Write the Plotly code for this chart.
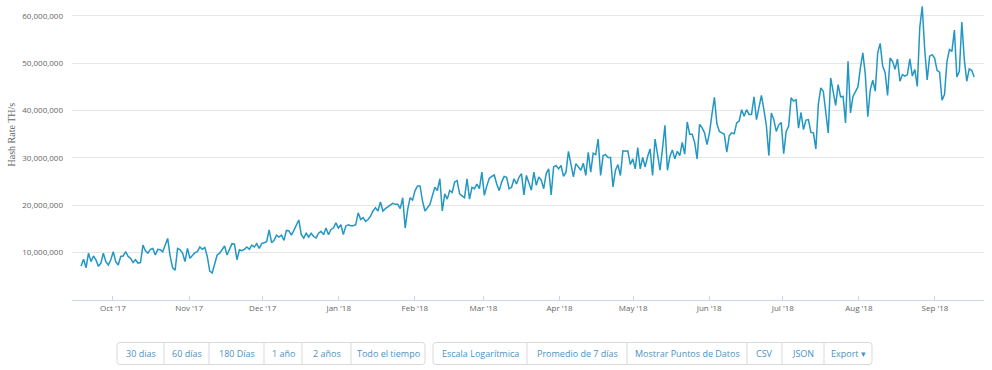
import plotly.graph_objects as go
import pandas as pd

# ---------------- data (millions of TH/s) ----------------
hash_q1 = [7.2, 8.6, 6.8, 9.9, 8.1, 9.3, 8.5, 7.1, 7.8, 9.9, 8.1, 7.4, 8.5, 10.2, 8.1, 7.4,
           9.2, 9.3, 10.2, 9.2, 8.8, 7.9, 8.5, 7.8, 7.9, 11.6, 10.4, 9.9, 10.7, 10.9, 9.5,
           10.7, 10.6, 10.2, 11.6, 13.0, 9.2, 6.8, 6.3, 10.9, 10.6, 9.9, 8.1, 10.9, 8.8, 9.5,
           10.0, 10.2, 11.2, 10.7, 11.1, 9.2, 6.1, 5.7, 7.4, 9.5, 9.9, 10.6, 11.4, 9.5, 10.7,
           11.9, 11.8, 8.5, 10.6, 10.4, 10.7, 11.2, 10.7, 11.6, 11.2, 11.9, 10.9, 11.9, 12.1,
           12.3, 14.8, 12.1, 12.6, 13.7, 13.3, 13.7, 12.6, 14.7, 14.6, 13.7, 14.7, 15.7, 16.9]
hash_q2 = [13.8, 13.1, 14.1, 13.3, 14.1, 13.4, 13.1, 14.1, 14.5, 13.8, 15.2, 13.8, 14.9, 15.2,
           16.3, 15.2, 15.9, 13.8, 15.6, 15.9, 15.7, 15.7, 15.9, 18.4, 17.0, 17.4, 16.6, 17.0,
           17.7, 18.8, 19.5, 18.8, 20.7, 18.8, 19.3, 19.7, 20.0, 20.4, 20.2, 20.2, 19.3, 21.6,
           15.2, 19.1, 21.6, 21.1, 23.1, 24.1, 24.1, 20.9, 18.8, 19.5, 20.2, 22.0, 23.8, 23.1,
           25.6, 18.8, 22.4, 21.3, 23.1, 22.7, 24.9, 25.2, 22.4, 22.0, 21.6, 25.6, 21.3, 23.8,
           23.5, 24.5, 23.5, 27.0, 22.1, 24.1, 25.7, 26.1, 26.4, 24.5, 23.1, 24.9, 26.1, 25.9,
           23.5, 23.8, 25.6, 24.5, 25.9]
hash_q3 = [26.7, 22.2, 26.3, 24.6, 23.2, 27.0, 24.2, 26.0, 25.3, 23.5, 26.7, 27.7, 22.2, 28.1,
           28.4, 27.7, 28.4, 26.1, 27.0, 31.4, 28.4, 26.0, 28.8, 28.2, 27.4, 28.9, 26.3, 31.2,
           27.0, 31.0, 30.7, 34.0, 26.3, 30.5, 30.7, 30.1, 30.1, 23.9, 27.4, 28.6, 26.3, 31.5,
           31.4, 31.5, 28.6, 29.8, 27.7, 32.2, 27.7, 30.1, 28.1, 30.3, 31.9, 26.3, 34.0, 30.8,
           27.4, 31.9, 36.9, 27.4, 30.3, 31.7, 29.8, 31.4, 30.5, 33.3, 30.8, 37.6, 35.0, 35.0,
           33.3, 29.8, 37.1, 36.4, 35.3, 32.8, 35.3, 39.2, 42.8, 37.2, 35.6, 35.3, 35.0, 31.2,
           34.7, 35.3, 35.1, 37.4, 37.8, 40.2]
hash_q4 = [38.8, 40.2, 39.2, 39.2, 42.9, 38.1, 40.6, 43.2, 40.2, 36.8, 30.5, 39.5, 38.1, 35.6,
           37.0, 37.5, 30.9, 35.6, 36.7, 42.7, 42.0, 42.3, 36.3, 39.6, 36.0, 38.0, 38.1, 35.4,
           35.3, 31.9, 41.3, 44.8, 44.1, 39.5, 35.3, 46.9, 43.7, 41.1, 45.5, 42.9, 43.0, 37.4,
           50.4, 39.5, 43.0, 43.9, 45.0, 49.0, 52.2, 47.6, 38.7, 44.4, 46.4, 44.1, 52.2, 54.2,
           49.4, 48.0, 43.2, 51.1, 50.4, 48.7, 50.9, 46.2, 47.6, 47.3, 47.6, 50.9, 47.3, 48.7,
           45.1, 57.5, 62.0, 52.9, 46.5, 51.5, 51.8, 51.1, 48.5, 48.1, 42.2, 43.4, 50.4, 52.9,
           52.5, 57.0, 47.1, 48.3, 58.7, 50.8, 46.2, 48.8, 48.5, 47.1]

hash_rate = [v * 1e6 for v in hash_q1 + hash_q2 + hash_q3 + hash_q4]
dates = pd.date_range("2017-09-18", "2018-09-17", periods=len(hash_rate))

y_tick_vals = [10e6, 20e6, 30e6, 40e6, 50e6, 60e6]
y_tick_text = ["10,000,000", "20,000,000", "30,000,000", "40,000,000", "50,000,000", "60,000,000"]
x_tick_vals = ["2017-10-01", "2017-11-01", "2017-12-01", "2018-01-01", "2018-02-01", "2018-03-01",
               "2018-04-01", "2018-05-01", "2018-06-01", "2018-07-01", "2018-08-01", "2018-09-01"]
x_tick_text = ["Oct '17", "Nov '17", "Dec '17", "Jan '18", "Feb '18", "Mar '18",
               "Apr '18", "May '18", "Jun '18", "Jul '18", "Aug '18", "Sep '18"]
range_buttons = ["30 dias", "60 días", "180 Días", "1 año", "2 años", "Todo el tiempo"]
option_buttons = ["Escala Logarítmica", "Promedio de 7 días", "Mostrar Puntos de Datos",
                  "CSV", "JSON", "Export ▾"]

# ---------------- figure ----------------
W, H = 992, 370
ML, MR, MT, MB = 72, 8, 5, 70
PW, PH = W - ML - MR, H - MT - MB


def px(x):
    return (x - ML) / PW


def py(y):
    return (H - MB - y) / PH


fig = go.Figure()
fig.add_trace(go.Scatter(x=dates, y=hash_rate, mode="lines",
                         line=dict(color="#2397c3", width=1.5), hoverinfo="x+y"))

shapes = []
annotations = []


def rounded_box(x0, x1, y0, y1, r=3):
    X0, X1, Y0, Y1 = px(x0), px(x1), py(y0), py(y1)
    rx, ry = r / PW, r / PH
    path = (f"M {X0+rx},{Y0} L {X1-rx},{Y0} Q {X1},{Y0} {X1},{Y0-ry} "
            f"L {X1},{Y1+ry} Q {X1},{Y1} {X1-rx},{Y1} L {X0+rx},{Y1} "
            f"Q {X0},{Y1} {X0},{Y1+ry} L {X0},{Y0-ry} Q {X0},{Y0} {X0+rx},{Y0} Z")
    return dict(type="path", xref="paper", yref="paper", path=path,
                line=dict(color="#d9d9d9", width=1), fillcolor="white", layer="above")


def button_group(labels, edges, top=342.5, bottom=364.5):
    shapes.append(rounded_box(edges[0], edges[-1], top, bottom))
    for e in edges[1:-1]:
        shapes.append(dict(type="line", xref="paper", yref="paper", x0=px(e), x1=px(e),
                           y0=py(top), y1=py(bottom), line=dict(color="#d9d9d9", width=1),
                           layer="above"))
    for lab, a, b in zip(labels, edges[:-1], edges[1:]):
        annotations.append(dict(text=lab, xref="paper", yref="paper", x=px((a + b) / 2),
                                y=py((top + bottom) / 2), xanchor="center", yanchor="middle",
                                showarrow=False,
                                font=dict(family="Open Sans", size=9, color="#4a92c6")))


button_group(range_buttons, [117, 164, 209, 264, 302, 351, 425])
button_group(option_buttons, [433, 527, 627, 747, 782, 824, 872])

annotations.append(dict(text="Hash Rate TH/s", xref="paper", yref="paper",
                        x=px(10.5), y=py(135), textangle=-90, showarrow=False,
                        xanchor="center", yanchor="middle",
                        font=dict(family="Liberation Serif", size=10, color="#666666")))

fig.update_layout(
    width=W, height=H,
    margin=dict(l=ML, r=MR, t=MT, b=MB),
    paper_bgcolor="white", plot_bgcolor="white",
    showlegend=False,
    shapes=shapes, annotations=annotations,
    xaxis=dict(type="date", range=["2017-09-14 07:00", "2018-09-21"],
               tickvals=x_tick_vals, ticktext=x_tick_text,
               showgrid=False, zeroline=False, showline=True, linecolor="#ccd6eb",
               ticks="inside", ticklen=4, tickcolor="#ccd6eb",
               tickfont=dict(family="Open Sans", size=8, color="#666666")),
    yaxis=dict(range=[0, 62.3e6], tickvals=y_tick_vals, ticktext=y_tick_text,
               showgrid=True, gridcolor="#e6e6e6", gridwidth=1, zeroline=False,
               showline=False, ticks="", ticklabelstandoff=8,
               tickfont=dict(family="Open Sans", size=8, color="#666666")),
)

fig.write_html("out.html", config={"displayModeBar": False},
               post_script="document.body.style.margin='0px';document.body.style.overflow='hidden';")
